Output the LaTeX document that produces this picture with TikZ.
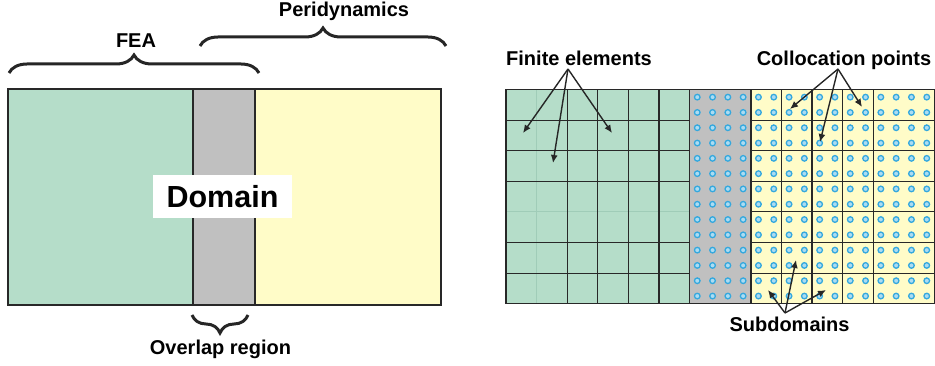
\documentclass[tikz,border=0pt]{standalone}
\usepackage{fontspec}
\setmainfont{Liberation Sans}
\usepackage{tikz}
\usetikzlibrary{arrows.meta,decorations.pathreplacing}
\definecolor{feagreen}{RGB}{181,221,201}
\definecolor{lapgray}{RGB}{192,192,192}
\definecolor{pdyellow}{RGB}{255,252,200}
\definecolor{dotblue}{RGB}{52,168,222}
\definecolor{dotfill}{RGB}{172,220,242}
\definecolor{edgegray}{RGB}{40,40,40}
\definecolor{faintgreen}{RGB}{160,204,184}

\begin{document}
\begin{tikzpicture}[x=1pt, y=-1pt,
  lbl/.style={font=\fontsize{20}{24}\selectfont\bfseries, inner sep=0pt, anchor=base},
  brc/.style={draw=black!85, line width=3pt, decorate, decoration={brace, amplitude=18pt}},
  ptr/.style={draw=black!85, line width=1.4pt, -{Latex[length=8pt,width=7pt]}},
  gridline/.style={draw=edgegray, line width=1.1pt}]
  \useasboundingbox (0,0) rectangle (935,366);
  \filldraw[fill=feagreen, draw=edgegray, line width=1.6pt] (8,89) rectangle (193,305);
  \filldraw[fill=lapgray, draw=edgegray, line width=1.6pt] (193,89) rectangle (255,305);
  \filldraw[fill=pdyellow, draw=edgegray, line width=1.6pt] (255,89) rectangle (441,305);
  \node[fill=white, minimum width=139pt, minimum height=43pt, inner sep=0pt, font=\fontsize{30.5}{36}\selectfont\bfseries] (dom) at (222.5,196.5) {Domain};
  \draw[brc] (9,73) -- (259,73);
  \node[lbl] (fea) at (136,48) {FEA};
  \draw[brc] (200,46) -- (446,46);
  \node[lbl] (peri) at (344,17) {Peridynamics};
  \draw[brc] (248,315) -- (192,315);
  \node[lbl] (lap) at (220.5,354) {Overlap region};

  \begin{scope}[shift={(506,89.5)}, x=30.6pt, y=-30.6pt]
    \fill[feagreen] (0,0) rectangle (6,7);
    \fill[lapgray] (6,0) rectangle (8,7);
    \fill[pdyellow] (8,0) rectangle (14,7);
    \draw[faintgreen, line width=0.8pt] (1,0) -- (1,7) (0,4) -- (6,4);
    \foreach \i in {2,...,5} \draw[gridline] (\i,0) -- (\i,7);
    \foreach \j in {1,2,3,5,6} \draw[gridline] (0,\j) -- (6,\j);
    \foreach \i in {9,...,12} \draw[gridline] (\i,0) -- (\i,7);
    \foreach \j in {1,...,6} \draw[gridline] (8,\j) -- (14,\j);
    \foreach \i in {12,...,27}
      \foreach \j in {0,...,13}
        \draw[dotblue, fill=dotfill, line width=1.3pt] ({(\i+0.5)/2},{(\j+0.5)/2}) circle (2.8pt);
    \draw[edgegray, line width=1.6pt] (6,0) -- (6,7) (8,0) -- (8,7) (0,0) rectangle (14,7);
  \end{scope}

  \node[lbl] (fel) at (579,66) {Finite elements};
  \node[lbl] (cpl) at (844,66) {Collocation points};
  \node[lbl] (sdl) at (789.5,331) {Subdomains};
  \coordinate (fe) at (568,69);
  \coordinate (fe1) at (523,133);
  \coordinate (fe2) at (553,163);
  \coordinate (fe3) at (612,133);
  \coordinate (cp) at (838,69);
  \coordinate (cp1) at (790,109);
  \coordinate (cp2) at (820,142);
  \coordinate (cp3) at (862,107);
  \coordinate (sd) at (785,313);
  \coordinate (sd1) at (768,290);
  \coordinate (sd2) at (796,260);
  \coordinate (sd3) at (826,290);
  \foreach \t in {fe1,fe2,fe3} \draw[ptr] (fe) -- (\t);
  \foreach \t in {cp1,cp2,cp3} \draw[ptr] (cp) -- (\t);
  \foreach \t in {sd1,sd2,sd3} \draw[ptr] (sd) -- (\t);
\end{tikzpicture}
\end{document}
